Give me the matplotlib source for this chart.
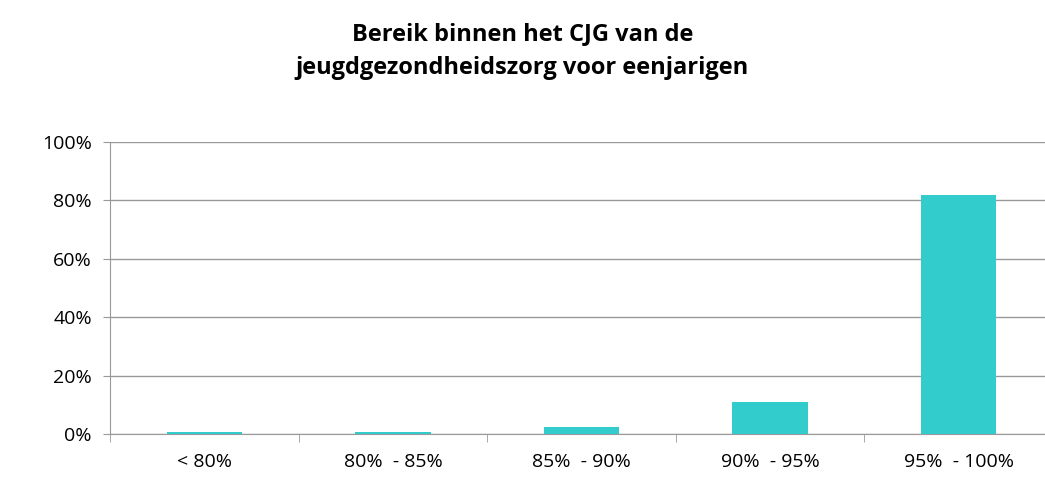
import matplotlib.pyplot as plt
from matplotlib.ticker import PercentFormatter

categories = ["< 80%", "80%  - 85%", "85%  - 90%", "90%  - 95%", "95%  - 100%"]
values = [0.6, 0.6, 2.4, 11.0, 82.0]
yticks = [0, 20, 40, 60, 80, 100]

plt.rcParams['font.family'] = ['Open Sans', 'DejaVu Sans']

fig = plt.figure(figsize=(10.45, 4.8), dpi=100)
ax = fig.add_axes([0.1053, 0.0958, 0.9024, 0.6083])

x = range(len(categories))
ax.bar(x, values, width=0.4, color='#33CCCC', zorder=3)

ax.set_xlim(-0.5, len(categories) - 0.5)
ax.set_ylim(0, 100)
ax.set_yticks(yticks)
ax.yaxis.set_major_formatter(PercentFormatter(decimals=0))
ax.set_xticks(list(x))
ax.set_xticklabels(categories)
ax.set_xticks([i - 0.5 for i in range(len(categories) + 1)], minor=True)
ax.tick_params(axis='x', which='major', length=0, pad=14, labelsize=14)
ax.tick_params(axis='x', which='minor', length=6, color='#999999', direction='out')
ax.tick_params(axis='y', length=5, color='#999999', labelsize=14, pad=8)

ax.grid(axis='y', color='#999999', linewidth=1, zorder=0)
for s in ['top', 'right']:
    ax.spines[s].set_visible(False)
for s in ['left', 'bottom']:
    ax.spines[s].set_color('#999999')

fig.text(0.5, 0.93, "Bereik binnen het CJG van de", ha='center', va='center',
         fontsize=17, fontweight='bold')
fig.text(0.5, 0.858, "jeugdgezondheidszorg voor eenjarigen", ha='center', va='center',
         fontsize=17, fontweight='bold')

fig.savefig('out.png', dpi=100)
